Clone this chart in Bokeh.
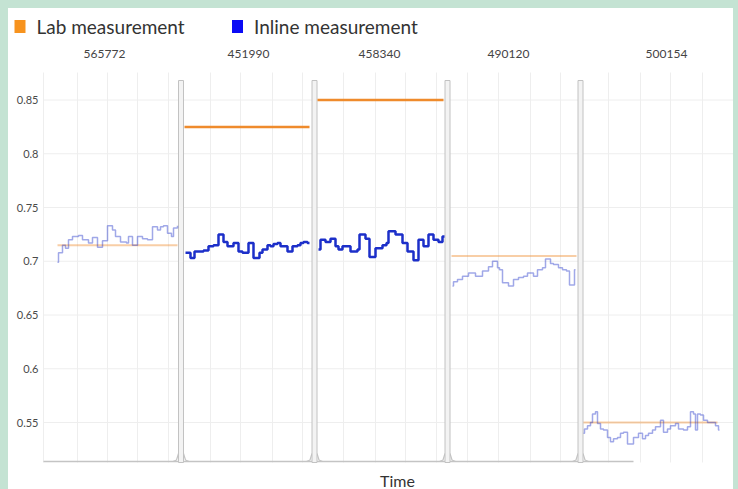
from bokeh.plotting import figure
from bokeh.layouts import column
from bokeh.models import Range1d, GlobalInlineStyleSheet
from bokeh.core.properties import value
from bokeh.embed import file_html
from bokeh.resources import INLINE

FONT = "Lato"

# ---------------- data ----------------
legend_labels = ["Lab measurement", "Inline measurement"]
legend_colors = ["#f7931e", "#0b0bf5"]

batch_ids = ["565772", "451990", "458340", "490120", "500154"]
label_t = [61, 205, 336, 465, 623]
batch_bounds = [137.5, 271, 404, 537]
lab_start = [14, 141, 274, 408, 540]
lab_end = [134, 266, 400, 533, 674]
lab_values = [0.715, 0.825, 0.85, 0.705, 0.55]
highlight = [False, True, True, False, False]

p1_t = [14, 15, 19, 22, 25, 29, 35, 39, 45, 49, 54, 59, 64, 69, 72, 77, 83, 85, 89, 94,
        99, 104, 109, 114, 117, 120, 124, 128, 130, 134]
p1_v = [0.699, 0.708, 0.715, 0.712, 0.720, 0.723, 0.724, 0.720, 0.717, 0.722, 0.713, 0.719,
        0.733, 0.729, 0.723, 0.718, 0.717, 0.723, 0.715, 0.723, 0.721, 0.720, 0.732, 0.729,
        0.732, 0.733, 0.726, 0.723, 0.731, 0.733]
p2_t = [142, 147, 151, 160, 165, 170, 175, 180, 184, 190, 195, 199, 205, 210, 216, 219, 224,
        227, 230, 234, 237, 244, 249, 254, 257, 260, 264, 266]
p2_v = [0.708, 0.703, 0.709, 0.710, 0.714, 0.715, 0.725, 0.718, 0.714, 0.717, 0.709, 0.708,
        0.717, 0.703, 0.708, 0.711, 0.715, 0.714, 0.716, 0.717, 0.714, 0.709, 0.714, 0.715,
        0.717, 0.718, 0.717, 0.717]
p3_t = [275, 277, 282, 287, 292, 295, 299, 307, 314, 316, 322, 326, 332, 339, 343, 345, 352,
        359, 364, 370, 375, 380, 385, 390, 395, 399, 401]
p3_v = [0.711, 0.720, 0.718, 0.721, 0.714, 0.711, 0.714, 0.709, 0.711, 0.725, 0.721, 0.704,
        0.712, 0.715, 0.717, 0.728, 0.725, 0.717, 0.709, 0.701, 0.720, 0.714, 0.725, 0.720,
        0.718, 0.723, 0.723]
p4_t = [409, 410, 414, 419, 425, 432, 439, 445, 449, 454, 456, 459, 465, 470, 475, 480, 484,
        490, 494, 499, 502, 507, 510, 515, 519, 523, 526, 531, 532]
p4_v = [0.677, 0.681, 0.683, 0.686, 0.689, 0.686, 0.691, 0.695, 0.700, 0.694, 0.692, 0.680,
        0.677, 0.683, 0.685, 0.686, 0.689, 0.686, 0.692, 0.694, 0.702, 0.698, 0.697, 0.694,
        0.692, 0.691, 0.678, 0.692, 0.692]
p5_t = [540, 541, 544, 547, 549, 552, 554, 557, 560, 564, 567, 570, 574, 577, 580, 584, 590,
        595, 599, 602, 605, 609, 612, 617, 620, 624, 627, 632, 635, 640, 644, 647, 650, 652,
        654, 657, 660, 664, 672, 675, 676]
p5_v = [0.540, 0.544, 0.547, 0.550, 0.558, 0.560, 0.549, 0.544, 0.543, 0.536, 0.532, 0.535,
        0.536, 0.540, 0.541, 0.530, 0.536, 0.540, 0.535, 0.538, 0.540, 0.543, 0.546, 0.552,
        0.541, 0.544, 0.547, 0.549, 0.544, 0.543, 0.546, 0.560, 0.558, 0.543, 0.558, 0.557,
        0.552, 0.550, 0.547, 0.543, 0.543]
inline_t = [p1_t, p2_t, p3_t, p4_t, p5_t]
inline_v = [p1_v, p2_v, p3_v, p4_v, p5_v]

grid_t = [0, 34, 64, 94, 125, 167, 197, 229, 259, 300, 332, 362, 393, 424, 455, 487, 517,
          565, 597, 627, 659]
y_ticks = [0.55, 0.6, 0.65, 0.7, 0.75, 0.8, 0.85]
x_title = "Time"

# ---------------- layout helpers (pixel offsets -> data) ----------------
W, H = 725, 481
T0, T1 = -35, 690                 # time span of the whole canvas (1 unit per px)
PX = 1 / 1075.0                   # value per vertical pixel
Y_TOP = 0.85 + 91.5 * PX          # canvas top
Y_BOT = 0.85 - 389.5 * PX         # canvas bottom
PLOT_TOP = 0.85 + 27.5 * PX       # top of plotting area
PLOT_BOT = 0.85 - 362.5 * PX      # bottom of plotting area


def y_at(page_y):
    return 0.85 + (99.5 - page_y) * PX


p = figure(width=W, height=H, x_range=Range1d(T0, T1), y_range=Range1d(Y_BOT, Y_TOP),
           x_axis_type=None, y_axis_type=None, output_backend="svg",
           toolbar_location=None, min_border=0, outline_line_color=None,
           background_fill_color="white", border_fill_color="white")

# grid
p.segment(x0=[0] * len(y_ticks), x1=[T1] * len(y_ticks), y0=y_ticks, y1=y_ticks,
          line_color="#eeeeee", line_width=1)
p.segment(x0=grid_t, x1=grid_t, y0=[PLOT_BOT] * len(grid_t), y1=[PLOT_TOP] * len(grid_t),
          line_color="#eeeeee", line_width=1)

# y tick labels
p.text(x=[-5] * len(y_ticks), y=y_ticks, text=[f"{v:g}" for v in y_ticks],
       text_font=value(FONT), text_font_size="11px", text_color="#4a4a4a",
       text_align="right", text_baseline="middle")

# baseline with small rises into each separator
BASE = PLOT_BOT + 1 * PX
p.line([0, 590], [BASE, BASE], line_color="#c4c4c4", line_width=1.5)
spike_xs, spike_ys = [], []
for b in batch_bounds:
    spike_xs.append([b - 8, b - 4.5, b - 2.5])
    spike_ys.append([BASE, BASE + 1.5 * PX, BASE + 8 * PX])
    spike_xs.append([b + 8, b + 4.5, b + 2.5])
    spike_ys.append([BASE, BASE + 1.5 * PX, BASE + 8 * PX])
p.multi_line(spike_xs, spike_ys, line_color="#c4c4c4", line_width=1.2)

# separators
p.quad(left=[b - 2.5 for b in batch_bounds], right=[b + 2.5 for b in batch_bounds],
       bottom=[PLOT_BOT] * len(batch_bounds), top=[y_at(80)] * len(batch_bounds),
       fill_color="#f3f3f3", line_color="#c2c2c2", line_width=1)

ORANGE = "#ef8b2c"
BLUE = "#1c2fc9"
for i in range(len(batch_ids)):
    hl = highlight[i]
    a = 1.0 if hl else 0.42
    p.segment(x0=[lab_start[i]], x1=[lab_end[i]], y0=[lab_values[i]], y1=[lab_values[i]],
              line_color=ORANGE, line_alpha=a, line_width=2.5 if hl else 2)
    p.step(inline_t[i], inline_v[i], mode="after", line_color=BLUE, line_alpha=a,
           line_width=2.5 if hl else 1.5)

# panel labels
p.text(x=label_t, y=[y_at(53)] * len(label_t), text=batch_ids, text_font=value(FONT),
       text_font_size="12px", text_color="#444444", text_align="center",
       text_baseline="middle")

# legend
LEG_Y = y_at(26)
sq_t = [-23.5, 194]
p.rect(x=sq_t, y=[LEG_Y] * 2, width=11, height=13, height_units="screen",
       fill_color=legend_colors, line_color=None)
p.text(x=[t + 16.5 for t in sq_t], y=[LEG_Y] * 2, text=legend_labels,
       text_font=value(FONT), text_font_size="19px", text_color="#333333",
       text_baseline="middle")

# x axis title
p.text(x=[354], y=[y_at(480)], text=[x_title], text_font=value(FONT),
       text_font_size="16px", text_color="#333333", text_align="center",
       text_baseline="middle")

layout = column(p, background="white",
                stylesheets=[GlobalInlineStyleSheet(
                    css="html,body{background:#c4e3d3;overflow:hidden;margin:0;padding:0;}"
                        "body{padding:8px 0 0 8px;}")])

open("out.html", "w").write(file_html(layout, INLINE))
